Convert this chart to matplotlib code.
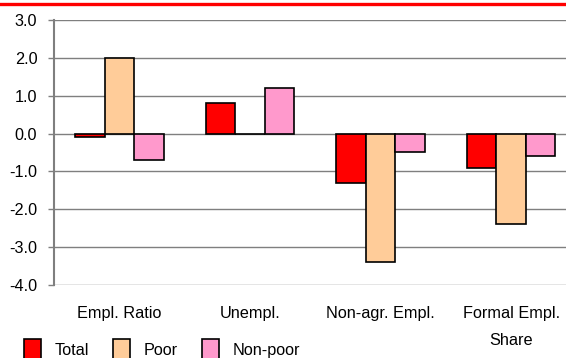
import numpy as np
import matplotlib.pyplot as plt
from matplotlib.lines import Line2D
from matplotlib.patches import Patch

plt.rcParams['font.family'] = ['Liberation Sans', 'DejaVu Sans']

categories = ['Empl. Ratio', 'Unempl.', 'Non-agr. Empl.', 'Formal Empl.\nShare']
series_names = ['Total', 'Poor', 'Non-poor']
total = [-0.1, 0.8, -1.3, -0.9]
poor = [2.0, 0.0, -3.4, -2.4]
non_poor = [-0.7, 1.2, -0.5, -0.6]
yticks = [3.0, 2.0, 1.0, 0.0, -1.0, -2.0, -3.0, -4.0]

colors = ['#ff0000', '#ffcc99', '#ff99cc']

W, H = 566, 358
fig = plt.figure(figsize=(W / 100, H / 100), dpi=100)
# plot area runs a little past the right edge of the canvas
ax = fig.add_axes([54 / W, 1 - 285 / H, (576.5 - 54) / W, (285 - 20) / H])

x = np.arange(len(categories))
bw = 0.226
for i, (vals, c) in enumerate(zip([total, poor, non_poor], colors)):
    ax.bar(x + (i - 1) * bw, vals, bw, color=c, edgecolor='black',
           linewidth=1.2, zorder=3)

ax.set_xlim(-0.5, len(categories) - 0.5)
ax.set_ylim(-4.0, 3.0)
ax.set_yticks(yticks)
ax.set_yticklabels([f'{v:.1f}' for v in yticks])
ax.yaxis.grid(True, color='#7f7f7f', linewidth=1.0, zorder=0)
ax.set_axisbelow(True)

ax.set_xticks(x)
ax.set_xticklabels(categories, linespacing=2.0)
ax.tick_params(axis='x', length=0, pad=15, labelsize=11.7, colors='#000000')
ax.tick_params(axis='y', length=4, width=1.0, pad=8, labelsize=11.7,
               color='#7f7f7f')

for s in ['top', 'right', 'bottom']:
    ax.spines[s].set_visible(False)
ax.spines['left'].set_color('#7f7f7f')
ax.spines['left'].set_linewidth(1.5)

handles = [Patch(facecolor=c, edgecolor='black', linewidth=1.2) for c in colors]
fig.legend(handles, series_names, loc='upper left', ncol=3,
           bbox_to_anchor=(17.6 / W, 1 - 332.5 / H), frameon=False,
           fontsize=11.7, handlelength=1.05, handleheight=1.6,
           handletextpad=0.85, columnspacing=1.45, borderaxespad=0)

# red rule along the top edge
fig.add_artist(Line2D([0, 1], [1 - 3.5 / H, 1 - 3.5 / H], color='#ff0000',
                      linewidth=2.4, transform=fig.transFigure))

fig.savefig('out.png', dpi=100)
